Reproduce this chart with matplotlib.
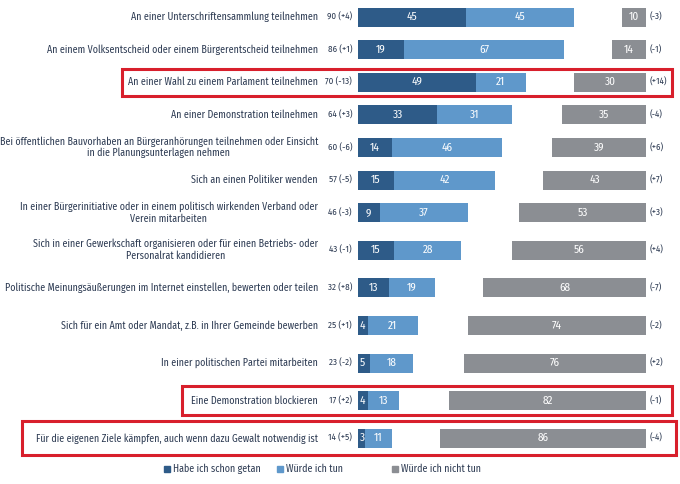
import matplotlib
matplotlib.use("Agg")
import matplotlib.pyplot as plt
from matplotlib import font_manager
from matplotlib.patches import Rectangle
import numpy as np

# pick the narrowest sans family that is installed
installed = {f.name for f in font_manager.fontManager.ttflist}
family = "DejaVu Sans"
for cand in ["Fira Sans Condensed", "Roboto Condensed", "Open Sans Condensed",
             "Liberation Sans Narrow", "DejaVu Sans Condensed", "Noto Sans Condensed",
             "Roboto", "Liberation Sans"]:
    if cand in installed:
        family = cand
        break
plt.rcParams['font.family'] = [family, 'DejaVu Sans']

# data
labels = [
    "An einer Unterschriftensammlung teilnehmen",
    "An einem Volksentscheid oder einem Bürgerentscheid teilnehmen",
    "An einer Wahl zu einem Parlament teilnehmen",
    "An einer Demonstration teilnehmen",
    "Bei öffentlichen Bauvorhaben an Bürgeranhörungen teilnehmen oder Einsicht\nin die Planungsunterlagen nehmen",
    "Sich an einen Politiker wenden",
    "In einer Bürgerinitiative oder in einem politisch wirkenden Verband oder\nVerein mitarbeiten",
    "Sich in einer Gewerkschaft organisieren oder für einen Betriebs- oder\nPersonalrat kandidieren",
    "Politische Meinungsäußerungen im Internet einstellen, bewerten oder teilen",
    "Sich für ein Amt oder Mandat, z.B. in Ihrer Gemeinde bewerben",
    "In einer politischen Partei mitarbeiten",
    "Eine Demonstration blockieren",
    "Für die eigenen Ziele kämpfen, auch wenn dazu Gewalt notwendig ist",
]
done = [45, 19, 49, 33, 14, 15, 9, 15, 13, 4, 5, 4, 3]
would = [45, 67, 21, 31, 46, 42, 37, 28, 19, 21, 18, 13, 11]
would_not = [10, 14, 30, 35, 39, 43, 53, 56, 68, 74, 76, 82, 86]
total_change = [4, 1, -13, 3, -6, -5, -3, -1, 8, 1, -2, 2, 5]
not_change = [-3, -1, 14, -4, 6, 7, 3, 4, -7, -2, 2, -1, -4]
highlighted = [2, 11, 12]
legend_labels = ["Habe ich schon getan", "Würde ich tun", "Würde ich nicht tun"]

c_done = "#2e5b88"
c_would = "#5f98cb"
c_not = "#8b8e93"
c_text = "#2c3a52"
c_red = "#d81f2c"

# layout (pixel based)
W, H = 680, 484
x0, scale = 358, 2.4  # px of value 0, px per percentage point
right_end = 120       # value where the "nicht tun" bars end


def px(x):
    return (x - x0) / scale


row_y = np.concatenate([17 + np.arange(7) * 32.6, 17 + 6 * 32.6 + np.arange(1, 7) * 37.6])
bar_h = 19

fig = plt.figure(figsize=(W / 100, H / 100), dpi=100)
ax = fig.add_axes([0, 0, 1, 1])
ax.set_xlim(px(0), px(W))
ax.set_ylim(H, 0)
ax.axis("off")

# fit the label font so the first label is as wide as in the reference (~187 px)
renderer = fig.canvas.get_renderer()
probe = fig.text(0, 0, labels[0], fontsize=10)
probe_w = probe.get_window_extent(renderer).width
probe.remove()
fs = min(8.6, 10 * 187 / probe_w)
fs_small = fs * 0.9
fs_bar = fs * 1.12

done = np.array(done)
would = np.array(would)
would_not = np.array(would_not)
total = done + would

ax.barh(row_y, done, height=bar_h, color=c_done)
ax.barh(row_y, would, left=done, height=bar_h, color=c_would)
ax.barh(row_y, would_not, left=right_end - would_not, height=bar_h, color=c_not)

for i, y in enumerate(row_y):
    ax.text(px(318), y, labels[i], ha="right", va="center", multialignment="center",
            fontsize=fs, color=c_text, linespacing=1.15)
    ax.text(px(352), y, f"{total[i]} ({total_change[i]:+d})", ha="right", va="center",
            fontsize=fs_small, color=c_text)
    ax.text(px(650), y, f"({not_change[i]:+d})", ha="left", va="center",
            fontsize=fs_small, color=c_text)
    xd = 2 if done[i] < 7 else done[i] / 2
    ax.text(xd, y, str(done[i]), ha="center", va="center", fontsize=fs_bar, color="white")
    ax.text(done[i] + would[i] / 2, y, str(would[i]), ha="center", va="center",
            fontsize=fs_bar, color="white")
    ax.text(right_end - would_not[i] / 2, y, str(would_not[i]), ha="center", va="center",
            fontsize=fs_bar, color="white")

# red highlight boxes
boxes = {2: (122, 672, 27), 11: (182, 672, 29), 12: (22, 676, 34)}
for i in highlighted:
    xa, xb, h = boxes[i]
    ax.add_patch(Rectangle((px(xa), row_y[i] - h / 2), (xb - xa) / scale, h,
                           fill=False, edgecolor=c_red, linewidth=2.2, zorder=5))

# legend
for lx, lab, col in zip([167, 280, 395], legend_labels, [c_done, c_would, c_not]):
    ax.plot(px(lx), 469, marker="s", markersize=4.5, color=col, linestyle="none")
    ax.text(px(lx + 6), 469, lab, ha="left", va="center", fontsize=fs, color=c_text)

fig.savefig("out.png", dpi=100)
